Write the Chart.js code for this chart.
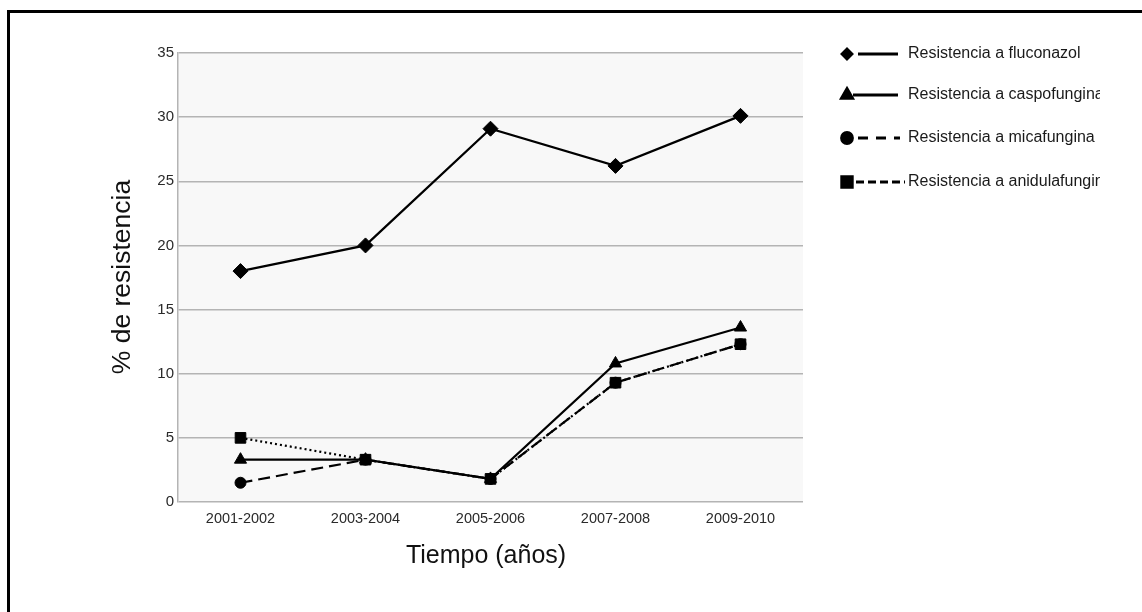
<!DOCTYPE html>
<html>
<head>
<meta charset="utf-8">
<script src="https://cdn.jsdelivr.net/npm/chart.js@4/dist/chart.umd.min.js"></script>
<style>
  html, body { margin: 0; padding: 0; background: #ffffff; }
  #wrap { position: relative; width: 1142px; height: 612px; }
  canvas { display: block; }
</style>
</head>
<body>
<div id="wrap"><canvas id="c" width="1142" height="612"></canvas></div>
<script>
// Periods on the horizontal axis
const periodos = ['2001-2002', '2003-2004', '2005-2006', '2007-2008', '2009-2010'];

// Resistance percentages per antifungal
const fluconazol = [18.0, 20.0, 29.1, 26.2, 30.1];
const caspofungina = [3.3, 3.3, 1.8, 10.8, 13.6];
const micafungina = [1.5, 3.3, 1.8, 9.3, 12.3];
const anidulafungina = [5.0, 3.3, 1.8, 9.3, 12.3];

// Vertical axis ticks
const yTicks = [0, 5, 10, 15, 20, 25, 30, 35];

const etiquetas = [
  'Resistencia a fluconazol',
  'Resistencia a caspofungina',
  'Resistencia a micafungina',
  'Resistencia a anidulafungina'
];

const FONT = '"Liberation Sans", Arial, Helvetica, sans-serif';

// Background of the plotting region, frame, axis titles and the side legend
const decor = {
  id: 'decor',
  beforeDraw(chart) {
    const { ctx, chartArea: a } = chart;
    ctx.save();
    ctx.fillStyle = '#f8f8f8';
    ctx.fillRect(a.left, a.top, a.right - a.left, a.bottom - a.top);
    ctx.restore();
  },
  afterDraw(chart) {
    const { ctx } = chart;
    ctx.save();
    // frame
    ctx.fillStyle = '#000';
    ctx.fillRect(7, 10, 1135, 3);
    ctx.fillRect(7, 10, 3, 602);

    // axis titles
    ctx.fillStyle = '#111';
    ctx.font = '25px ' + FONT;
    ctx.textAlign = 'center';
    ctx.textBaseline = 'middle';
    ctx.fillText('Tiempo (años)', 486, 556);
    ctx.save();
    ctx.translate(123, 277);
    ctx.rotate(-Math.PI / 2);
    ctx.font = '26.5px ' + FONT;
    ctx.fillText('% de resistencia', 0, 0);
    ctx.restore();

    // legend
    const rows = [54, 95, 138, 182];
    const dashes = [[], [], [10, 8], [8, 4]];
    const lineStart = [858, 853, 858, 856];
    const lineEnd = [898, 898, 900, 905];
    const styles = ['rectRot', 'triangle', 'circle', 'rect'];
    const radii = [5, 6.5, 5.5, 7.5];
    chart.data.datasets.forEach((ds, i) => {
      const y = rows[i];
      ctx.strokeStyle = '#000';
      ctx.lineWidth = 2.8;
      ctx.setLineDash(dashes[i]);
      ctx.beginPath();
      ctx.moveTo(lineStart[i], y);
      ctx.lineTo(lineEnd[i], y);
      ctx.stroke();
      ctx.setLineDash([]);
      ctx.fillStyle = '#000';
      Chart.helpers.drawPoint(ctx, { pointStyle: styles[i], radius: radii[i], borderWidth: 1 }, 847, y);
      ctx.save();
      ctx.beginPath();
      ctx.rect(0, 0, 1100, 612);
      ctx.clip();
      ctx.fillStyle = '#1a1a1a';
      ctx.font = '16px ' + FONT;
      ctx.textAlign = 'left';
      ctx.textBaseline = 'middle';
      ctx.fillText(ds.label, 908, y);
      ctx.restore();
    });
    ctx.restore();
  }
};

const common = {
  borderColor: '#000',
  backgroundColor: '#000',
  pointBackgroundColor: '#000',
  pointBorderColor: '#000',
  borderWidth: 2.2,
  pointBorderWidth: 1,
  tension: 0,
  fill: false
};

new Chart(document.getElementById('c'), {
  type: 'line',
  data: {
    labels: periodos,
    datasets: [
      Object.assign({}, common, {
        label: etiquetas[0], data: fluconazol,
        pointStyle: 'rectRot', pointRadius: 7.5, order: 1
      }),
      Object.assign({}, common, {
        label: etiquetas[1], data: caspofungina,
        pointStyle: 'triangle', pointRadius: 7, order: 2
      }),
      Object.assign({}, common, {
        label: etiquetas[2], data: micafungina,
        pointStyle: 'circle', pointRadius: 5.5, borderDash: [12, 6], order: 3
      }),
      Object.assign({}, common, {
        label: etiquetas[3], data: anidulafungina,
        pointStyle: 'rect', pointRadius: 7.5, borderDash: [2, 3], order: 2.5
      })
    ]
  },
  options: {
    responsive: false,
    animation: false,
    devicePixelRatio: 1,
    layout: { padding: { top: 53, right: 339, left: 0, bottom: 0 } },
    plugins: {
      legend: { display: false },
      tooltip: { enabled: false }
    },
    scales: {
      x: {
        offset: true,
        grid: { display: false, drawTicks: false },
        border: { display: false },
        ticks: {
          padding: 8,
          color: '#2a2a2a',
          font: { family: FONT, size: 14.5 },
          maxRotation: 0
        },
        afterFit(scale) { scale.height = 110; }
      },
      y: {
        min: 0,
        max: 35,
        afterBuildTicks(scale) { scale.ticks = yTicks.map(v => ({ value: v })); },
        grid: { color: '#b4b4b4', lineWidth: 1.5, drawTicks: false },
        border: { display: true, color: '#b4b4b4', width: 1.5 },
        ticks: {
          padding: 4,
          color: '#2a2a2a',
          font: { family: FONT, size: 15 }
        },
        afterFit(scale) { scale.width = 178; }
      }
    }
  },
  plugins: [decor]
});
</script>
</body>
</html>
